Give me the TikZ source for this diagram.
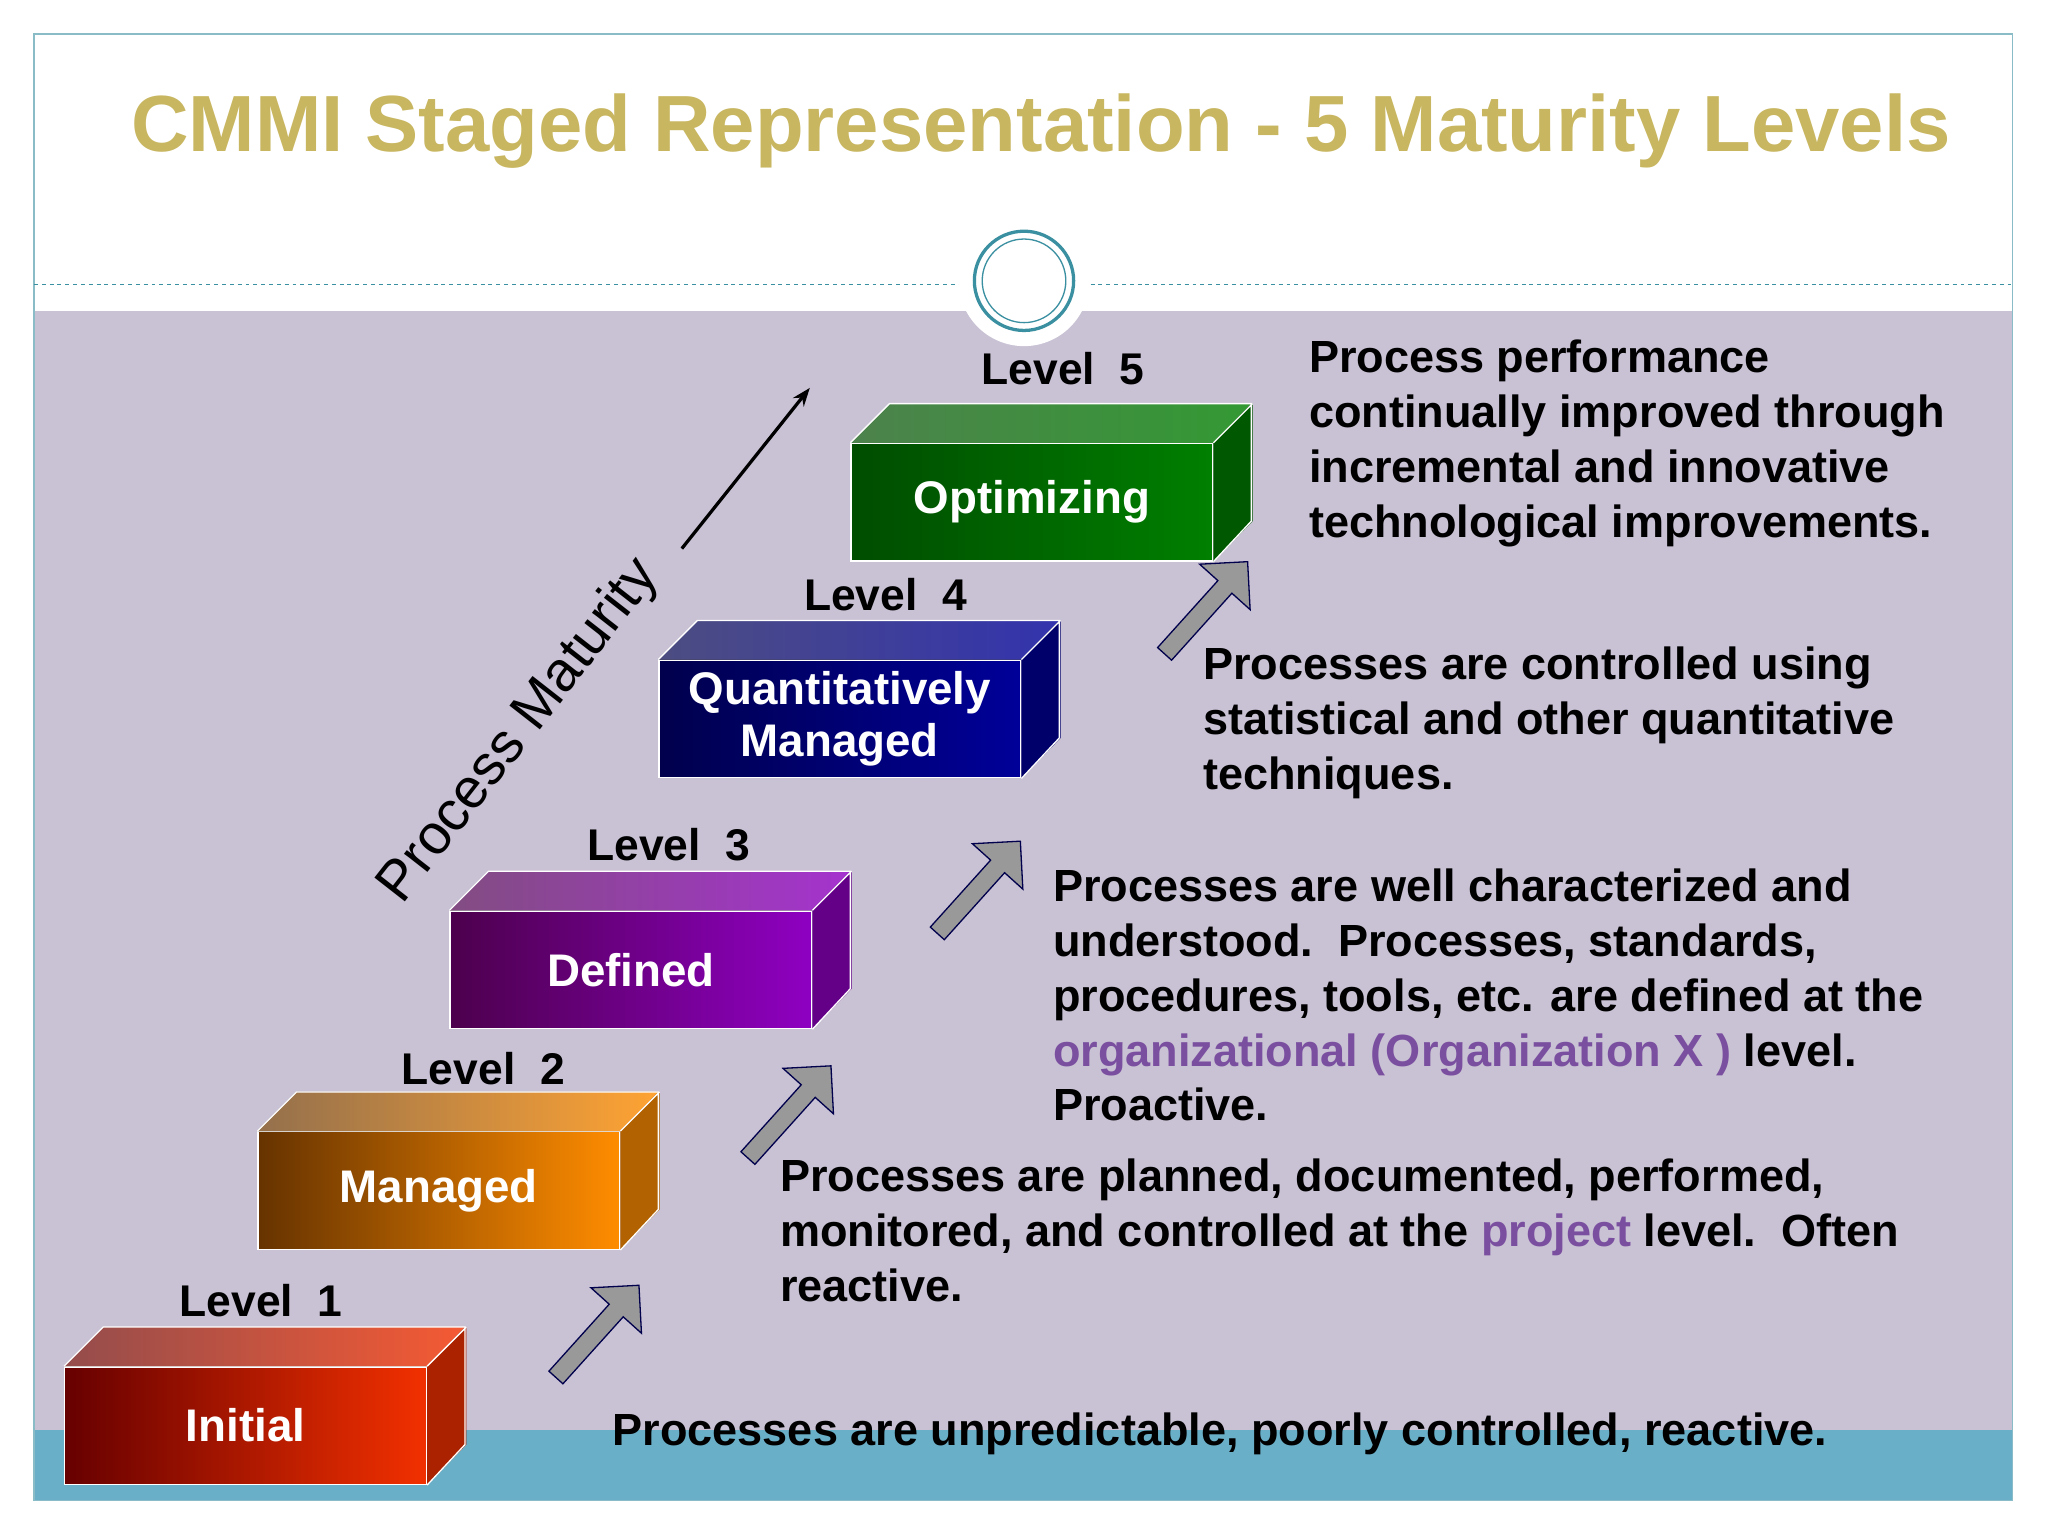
\documentclass[tikz,border=0pt]{standalone}
\usepackage{fontspec}
\setmainfont{Liberation Sans}
\usetikzlibrary{shapes.arrows,arrows.meta}
\definecolor{gold}{HTML}{C8B660}
\definecolor{lav}{HTML}{C9C1D4}
\definecolor{strip}{HTML}{6AAFC8}
\definecolor{teal}{HTML}{3A8FA0}
\definecolor{purp}{HTML}{7A4FA0}
\tikzset{
  front/.style={draw=white,line width=1pt,minimum width=277pt,minimum height=90pt,inner sep=0pt,text=white,font=\fontsize{35}{40}\selectfont\bfseries,align=center},
  lvl/.style={font=\fontsize{34}{36}\selectfont\bfseries},
  desc/.style={font=\fontsize{34.5}{42}\selectfont\bfseries,align=left,anchor=north west,inner sep=0pt},
  up/.style={single arrow,fill=gray!80,draw=blue!30!black,line width=1pt,minimum height=95pt,minimum width=52pt,single arrow head extend=10pt,single arrow tip angle=90,rotate=48}
}
\newcommand\cmbox[6]{%
  \node[front,left color=#5,right color=#6,anchor=north west] (#3) at (#1,-#2) {#4};
  \fill[left color=#5!70,right color=#6!80] (#3.north west) -- ++(30pt,30pt) -- ++(277pt,0) -- (#3.north east) -- cycle;
  \fill[#6!70!black] (#3.north east) -- ++(30pt,30pt) -- ++(0,-90pt) -- (#3.south east) -- cycle;
  \draw[white,line width=1pt] (#3.north west) -- ++(30pt,30pt) -- ++(277pt,0) -- ++(0,-90pt) -- (#3.south east) (#3.north east) -- ++(30pt,30pt);
}
\begin{document}
\begin{tikzpicture}[x=1pt,y=1pt]
\useasboundingbox (0,0) rectangle (1568,-1176);
\fill[white] (0,0) rectangle (1568,-1176);
\fill[lav] (26,-238) rectangle (1541,-1149);
\fill[strip] (26,-1095) rectangle (1541,-1149);
\draw[teal!60,line width=1pt] (26,-26) rectangle (1541,-1149);
\node[text=gold,font=\fontsize{61}{64}\selectfont\bfseries] (title) at (797,-100) {CMMI Staged Representation - 5 Maturity Levels};
\draw[teal,dashed,line width=0.8pt] (26,-218) -- (735,-218) (835,-218) -- (1541,-218);
\fill[white] (784,-215) circle (50);
\draw[teal,line width=2.5pt] (784,-215) circle (38);
\draw[teal,line width=1pt] (784,-215) circle (32);
\cmbox{49}{1046}{b1}{Initial}{red!40!black}{red!60!orange!95!black}
\cmbox{197}{866}{b2}{Managed}{orange!40!black}{orange!90!yellow}
\cmbox{344}{697}{b3}{Defined}{violet!60!black}{violet!60!magenta!80!blue}
\cmbox{504}{505}{b4}{Quantitatively\\Managed}{blue!30!black}{blue!60!black}
\cmbox{651}{339}{b5}{Optimizing}{green!30!black}{green!50!black}
\node[lvl] (l1) at (200,-996) {Level\ \ 1};
\node[lvl] (l2) at (370,-818) {Level\ \ 2};
\node[lvl] (l3) at (512,-647) {Level\ \ 3};
\node[lvl] (l4) at (678,-455) {Level\ \ 4};
\node[lvl] (l5) at (814,-282) {Level\ \ 5};
\node[up] (a1) at (455,-1022) {};
\node[up] (a2) at (602,-854) {};
\node[up] (a3) at (747,-682) {};
\node[up] (a4) at (921,-468) {};
\node[rotate=52,font=\fontsize{43}{45}\selectfont] (pm) at (398,-560) {Process Maturity};
\coordinate (pa) at (522,-420); \coordinate (pb) at (620,-297);
\draw[-{Stealth[length=14pt]},line width=2.5pt] (pa) -- (pb);
\node[desc] (d5) at (1002,-260) {Process performance\\continually improved through\\incremental and innovative\\technological improvements.};
\node[desc] (d4) at (921,-495) {Processes are controlled using\\statistical and other quantitative\\techniques.};
\node[desc] (d3) at (806,-665) {Processes are well characterized and\\understood.\ \ Processes, standards,\\procedures, tools, etc. are defined at the\\\textcolor{purp}{organizational (Organization X )} level.\\Proactive.};
\node[desc] (d2) at (597,-887) {Processes are planned, documented, performed,\\monitored, and controlled at the \textcolor{purp}{project} level.\ \ Often\\reactive.};
\node[font=\fontsize{34.5}{42}\selectfont\bfseries] (d1) at (934,-1098) {Processes are unpredictable, poorly controlled, reactive.};
\end{tikzpicture}
\end{document}
